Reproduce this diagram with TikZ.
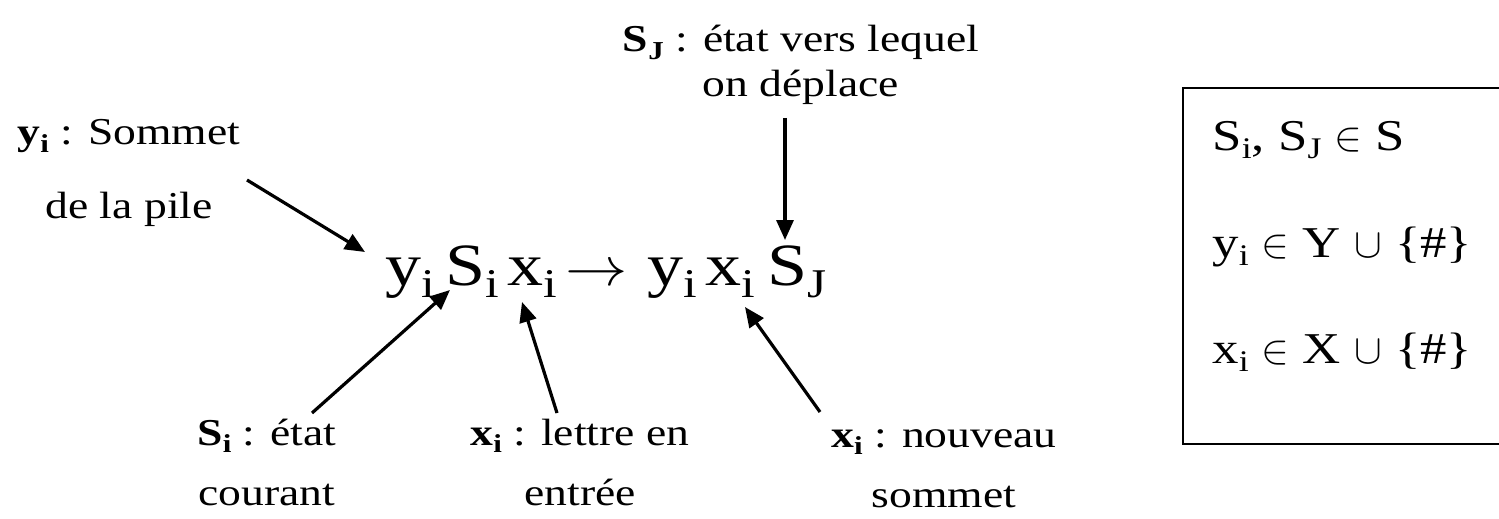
\documentclass[tikz,border=0pt]{standalone}
\usepackage{fontspec}
\setmainfont{Liberation Serif}[FakeStretch=1.2]
\usepackage{graphicx}
\usetikzlibrary{arrows.meta}
\newcommand\sbs[1]{\raisebox{-0.2em}{\scalebox{0.68}{#1}}}
\begin{document}
\begin{tikzpicture}[x=0.5pt,y=-0.5pt,
  tok/.style={anchor=base west, inner sep=0pt, font=\fontsize{30}{36}\selectfont},
  lbl/.style={align=center, inner sep=0pt, anchor=base, font=\fontsize{19}{#1}\selectfont},
  arr/.style={line width=1.6pt, -{Triangle[length=10pt,width=8.5pt]}},
  boxtxt/.style={anchor=base west, inner sep=0pt, font=\fontsize{22}{26}\selectfont},
  frame/.style={line width=1.4pt}]
\useasboundingbox (0,0) rectangle (1499,519);

% main formula
\node[tok] (yi1) at (385,285) {y\sbs{i}};
\node[tok] (Si1) at (445,285) {S\sbs{i}};
\node[tok] (xi1) at (507,285) {x\sbs{i}};
\node[tok] (to)  at (565,285) {\scalebox{1.25}[1.1]{$\rightarrow$}};
\node[tok] (yi2) at (647,285) {y\sbs{i}};
\node[tok] (xi2) at (705,285) {x\sbs{i}};
\node[tok] (SJ)  at (767,285) {S\sbs{J}};

% labels (positioned at the baseline of their last line)
\node[lbl=22.5pt] (ltop) at (801,97) {\textbf{S\sbs{J}} : état vers lequel\\on déplace};
\node[lbl=36.5pt] (lpile) at (129,218) {\textbf{y\sbs{i}} : Sommet\\de la pile};
\node[lbl=30pt] (lcour) at (267,505) {\textbf{S\sbs{i}} : état\\courant};
\node[lbl=30pt] (lentr) at (580,505) {\textbf{x\sbs{i}} : lettre en\\entrée};
\node[lbl=30pt] (lsomm) at (944,507) {\textbf{x\sbs{i}} : nouveau\\sommet};

% connector end points
\coordinate (p1) at (247,180); \coordinate (q1) at (365,252);
\coordinate (p2) at (312,413); \coordinate (q2) at (450,290);
\coordinate (p3) at (557,413); \coordinate (q3) at (522,302);
\coordinate (p4) at (820,412); \coordinate (q4) at (745,307);
\coordinate (p5) at (785,118); \coordinate (q5) at (785,240);
\draw[arr] (p1) -- (q1);
\draw[arr] (p2) -- (q2);
\draw[arr] (p3) -- (q3);
\draw[arr] (p4) -- (q4);
\draw[arr] (p5) -- (q5);

% box (its right side lies beyond the picture's edge)
\coordinate (bx1) at (1560,88); \coordinate (bx2) at (1183,88);
\coordinate (bx3) at (1183,444); \coordinate (bx4) at (1560,444);
\draw[frame] (bx1) -- (bx2) -- (bx3) -- (bx4);
\node[boxtxt] (b1) at (1212,150) {S\sbs{i}, S\sbs{J} $\in$ S};
\node[boxtxt] (b2) at (1212,257) {y\sbs{i} $\in$ Y $\cup$ \{\#\}};
\node[boxtxt] (b3) at (1212,363) {x\sbs{i} $\in$ X $\cup$ \{\#\}};
\end{tikzpicture}
\end{document}
